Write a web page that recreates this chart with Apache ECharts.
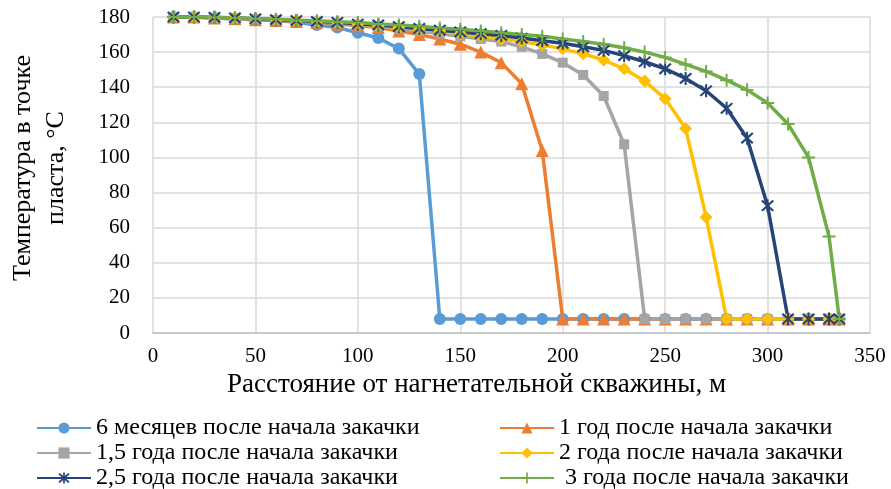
<!DOCTYPE html>
<html><head><meta charset="utf-8">
<script src="https://cdn.jsdelivr.net/npm/echarts@6/dist/echarts.min.js"></script>
<style>html,body{margin:0;padding:0;background:#fff}#c{width:891px;height:489px}</style>
</head><body><div id="c"></div>
<script>
const distance = [10,20,30,40,50,60,70,80,90,100,110,120,130,140,150,160,170,180,190,200,210,220,230,240,250,260,270,280,290,300,310,320,330,335];
const seriesNames = ['6 месяцев после начала закачки','1 год после начала закачки','1,5 года после начала закачки','2 года после начала закачки','2,5 года после начала закачки',' 3 года после начала закачки'];
const months6 = [180,180,179.5,179,178.5,178,177,175.5,174,171,168,162,147.5,8,8,8,8,8,8,8,8,8,8,8,8,8,8,8,8,8,8,8,8,8];
const year1 = [180,180,179.5,179,178.5,178,177.5,177,176,175,174,172,170,167.5,164.5,160,154,142,104,8,8,8,8,8,8,8,8,8,8,8,8,8,8,8];
const year15 = [180,180,179.5,179.2,178.8,178.3,177.8,177.2,176.5,175.5,174.5,173.5,172,170.5,169,167.5,166,163,159,154,147,135,107.5,8,8,8,8,8,8,8,8,8,8,8];
const year2 = [180,180,179.7,179.3,179,178.5,178,177.5,176.8,176,175,174,173,172,170.5,169,167.5,166,164,162,159,155.5,150.5,143.5,133.5,116.5,66,8,8,8,8,8,8,8];
const year25 = [180,180,179.8,179.5,179,178.5,178,177.5,177,176,175.5,174.5,173.5,172.5,171.5,170.5,169.5,168,166.5,165,163,161,158,154.5,150.5,145,138,128,111,72.5,8,8,8,8];
const year3 = [180,180,179.8,179.5,179,178.7,178.2,177.8,177.3,176.8,176,175.5,174.7,173.8,173,172,171,170,169,167.5,166,164.5,162.5,160,157,153,149,144,138.5,131,119,100,55,8];
const xTicks = [0,50,100,150,200,250,300,350];
const yTicks = [0,20,40,60,80,100,120,140,160,180];

const colors = ['#5B9BD5','#ED7D31','#A5A5A5','#FFC000','#264478','#70AD47'];
const symbols = ['circle','triangle','rect','diamond',
  'path://M4.3,0H5.7V10H4.3Z M0.5,1.6L1.6,0.5L9.5,8.4L8.4,9.5Z M8.4,0.5L9.5,1.6L1.6,9.5L0.5,8.4Z',
  'path://M4.25,0H5.75V10H4.25Z M0,4.25H10V5.75H0Z'];
const sizes = [12,13,10,13,13,13];
const allData = [months6,year1,year15,year2,year25,year3];
const font = 'Liberation Serif';

const series = allData.map((vals,i)=>({
  name: seriesNames[i], type:'line',
  data: distance.map((d,j)=>[d, vals[j]]),
  symbol: symbols[i], symbolSize: sizes[i], showAllSymbol: true,
  lineStyle:{width:3.5,color:colors[i]},
  itemStyle:{color:colors[i]},
  emphasis:{disabled:true},
  animation:false
}));

function legendFor(idx, left){
  return {orient:'vertical', left:left, top:416, height:120, itemWidth:54, itemHeight:14, itemGap:1,
    padding:[0,5,0,5],
    data: idx.map(i=>seriesNames[i]),
    textStyle:{fontFamily:font,fontSize:24,color:'#000',lineHeight:24}};
}
const chart = echarts.init(document.getElementById('c'));
chart.setOption({
  animation:false,
  color: colors,
  grid:{left:153,right:21,top:17,bottom:156,containLabel:false,outerBoundsMode:'none'},
  xAxis:{type:'value',min:0,max:350,interval:50,
    name:'Расстояние от нагнетательной скважины, м',nameLocation:'middle',nameGap:38,
    nameTextStyle:{fontFamily:font,fontSize:27,color:'#000',padding:[0,70,0,0]},
    axisLine:{lineStyle:{color:'#BFBFBF',width:1.5}},axisTick:{show:false},
    axisLabel:{fontFamily:font,fontSize:21,color:'#000',margin:13},
    splitLine:{show:true,lineStyle:{color:'#D9D9D9',width:1.5}}},
  yAxis:{type:'value',min:0,max:180,interval:20,
    name:'Температура в точке\nпласта, °C',nameLocation:'middle',nameGap:80,nameRotate:90,
    nameTextStyle:{fontFamily:font,fontSize:26,color:'#000',lineHeight:33,padding:[0,0,0,14]},
    axisLine:{show:false},axisTick:{show:false},
    axisLabel:{fontFamily:font,fontSize:21,color:'#000',margin:23},
    splitLine:{show:true,lineStyle:{color:'#D9D9D9',width:1.5}}},
  legend:[legendFor([0,2,4],31), legendFor([1,3,5],494)],
  series: series
});
</script></body></html>
